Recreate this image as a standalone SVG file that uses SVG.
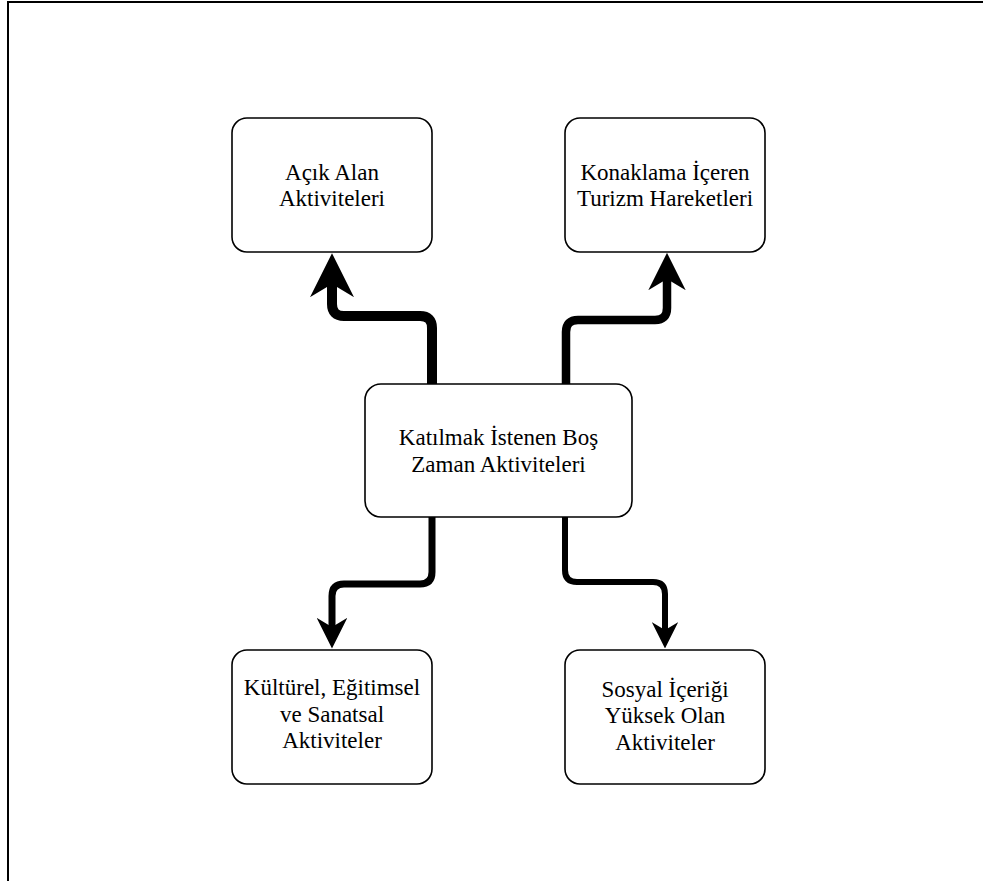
<svg xmlns="http://www.w3.org/2000/svg" width="983" height="881" viewBox="0 0 983 881">
  <style>
    .box { fill: #ffffff; stroke: #000000; stroke-width: 1.6; }
    .lbl { font-family: "Liberation Serif", "Times New Roman", serif; font-size: 23px; fill: #000000; text-anchor: middle; }
    .edge { fill: none; stroke: #000000; stroke-linejoin: round; marker-end: url(#arrow); }
  </style>
  <defs>
    <marker id="arrow" viewBox="0 0 10 10" refX="3" refY="5" markerWidth="4.4" markerHeight="4.4" markerUnits="strokeWidth" orient="auto">
      <path d="M0,0 L10,5 L0,10 L3,5 z" fill="#000000" stroke="none"/>
    </marker>
  </defs>
  <rect x="0" y="0" width="983" height="881" fill="#ffffff"/>
  <rect id="frame" x="8" y="2" width="1000" height="1000" fill="none" stroke="#000000" stroke-width="2"/>

  <g id="connectors">
    <path class="edge" stroke-width="10" d="M432,384 V328 Q432,316 420,316 H344 Q332,316 332,304 V284"/>
    <path class="edge" stroke-width="8.5" d="M566,384 V332 Q566,320 578,320 H655 Q667,320 667,308 V279"/>
    <path class="edge" stroke-width="7" d="M432,517 V572 Q432,584 420,584 H344 Q332,584 332,596 V627"/>
    <path class="edge" stroke-width="6" d="M565,517 V570 Q565,582 577,582 H653 Q665,582 665,594 V630"/>
  </g>

  <g id="node-center">
    <rect class="box" x="365" y="384" width="267" height="133" rx="16" ry="16"/>
    <text class="lbl" x="498.5" y="445">Katılmak İstenen Boş</text>
    <text class="lbl" x="498.5" y="471.5">Zaman Aktiviteleri</text>
  </g>
  <g id="node-acik-alan">
    <rect class="box" x="232" y="118" width="200" height="134" rx="15" ry="15"/>
    <text class="lbl" x="332" y="179.5">Açık Alan</text>
    <text class="lbl" x="332" y="206">Aktiviteleri</text>
  </g>
  <g id="node-konaklama">
    <rect class="box" x="565" y="118" width="200" height="134" rx="15" ry="15"/>
    <text class="lbl" x="665" y="179.5">Konaklama İçeren</text>
    <text class="lbl" x="665" y="206">Turizm Hareketleri</text>
  </g>
  <g id="node-kulturel">
    <rect class="box" x="232" y="650" width="200" height="134" rx="15" ry="15"/>
    <text class="lbl" x="332" y="695">Kültürel, Eğitimsel</text>
    <text class="lbl" x="332" y="721.5">ve Sanatsal</text>
    <text class="lbl" x="332" y="748">Aktiviteler</text>
  </g>
  <g id="node-sosyal">
    <rect class="box" x="565" y="650" width="200" height="134" rx="15" ry="15"/>
    <text class="lbl" x="665" y="697">Sosyal İçeriği</text>
    <text class="lbl" x="665" y="723">Yüksek Olan</text>
    <text class="lbl" x="665" y="749.5">Aktiviteler</text>
  </g>
</svg>
